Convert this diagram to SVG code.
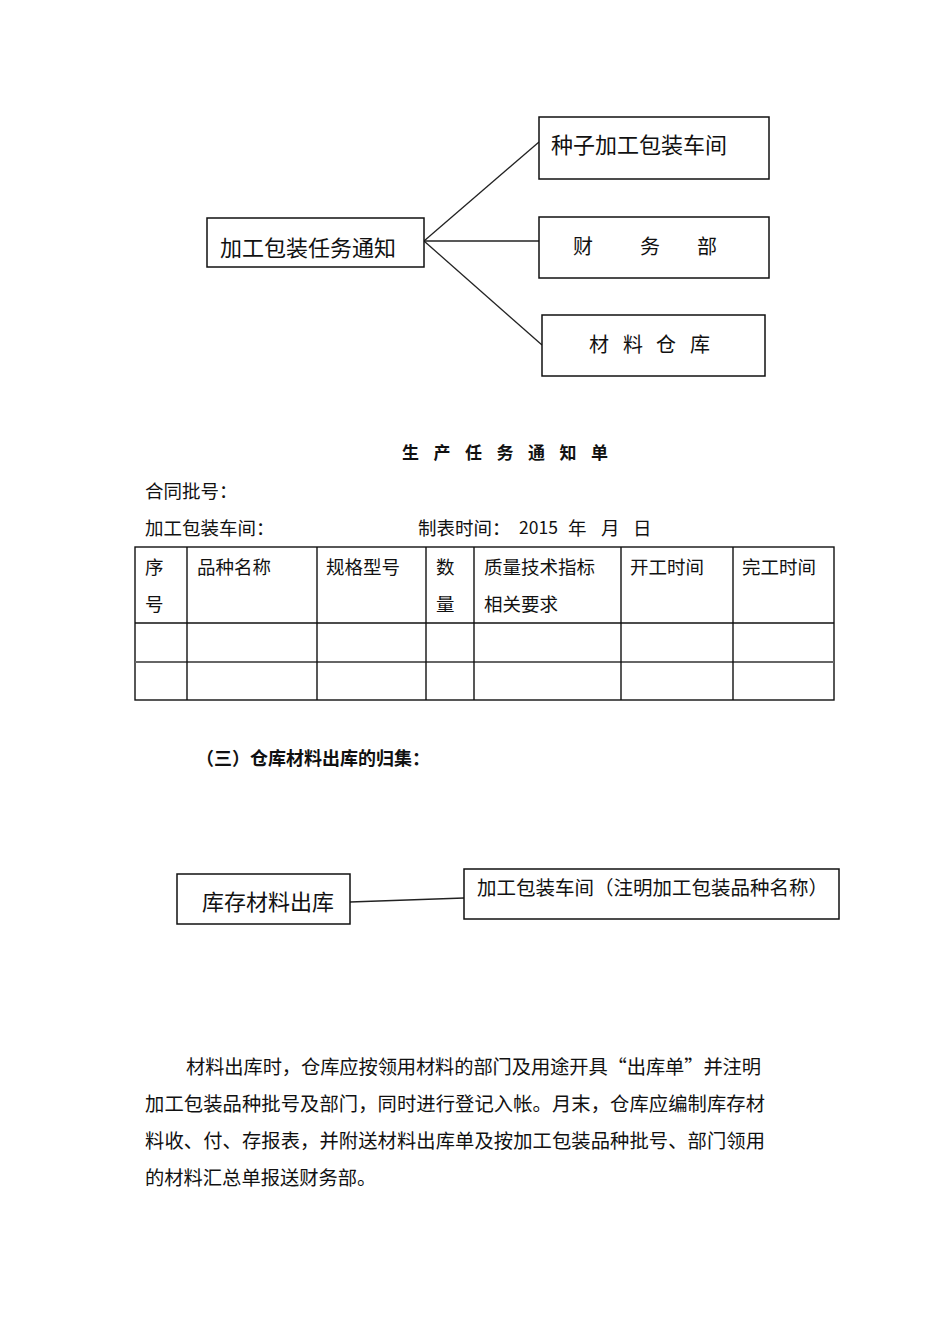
<svg xmlns="http://www.w3.org/2000/svg" width="950" height="1344" viewBox="0 0 950 1344">
<style>
text{font-family:"Noto Sans CJK SC","Liberation Sans",sans-serif;fill:#111;}
.box{fill:#fff;stroke:#111;stroke-width:1.5;}
.ln{stroke:#222;stroke-width:1.3;fill:none;}
.t21{font-size:22px;}
.t20{font-size:20px;}
.t18{font-size:18.5px;}
.b{font-weight:bold;}
.grid{stroke:#111;stroke-width:1.4;fill:none;}
</style>
<rect width="950" height="1344" fill="#fff"/>
<g id="connectors">
<line class="ln" x1="424" y1="241" x2="539" y2="142"/>
<line class="ln" x1="424" y1="241" x2="539" y2="241"/>
<line class="ln" x1="424" y1="241" x2="542" y2="345"/>
<line class="ln" x1="350" y1="902" x2="464" y2="898" stroke-width="1.8"/>
</g>
<g id="node-notice">
<rect class="box" x="207" y="218" width="217" height="49"/>
<text class="t21" x="220" y="256">加工包装任务通知</text>
</g>
<g id="node-workshop">
<rect class="box" x="539" y="117" width="230" height="62"/>
<text class="t21" x="551" y="153">种子加工包装车间</text>
</g>
<g id="node-finance">
<rect class="box" x="539" y="217" width="230" height="61"/>
<text class="t20" x="573 640 697" y="254">财务部</text>
</g>
<g id="node-warehouse">
<rect class="box" x="542" y="315" width="223" height="61"/>
<text class="t20" x="589 623 656 690" y="352">材料仓库</text>
</g>
<g id="form-title">
<text class="b" font-size="17" x="402 433.5 465 496.5 528 559.5 591" y="459">生产任务通知单</text>
<text class="t18" x="145" y="498">合同批号：</text>
<text class="t18" x="145" y="535">加工包装车间：</text>
<text class="t18" x="418" y="535">制表时间：</text>
<text font-family="Liberation Sans,Arial,sans-serif" font-size="17.5" x="519" y="534">2015</text>
<text class="t18" x="568" y="535">年</text>
<text class="t18" x="601" y="535">月</text>
<text class="t18" x="633" y="535">日</text>
</g>
<g id="table">
<rect class="grid" x="135" y="547" width="699" height="153"/>
<line class="grid" x1="135" y1="623" x2="834" y2="623"/>
<line x1="135" y1="662" x2="834" y2="662" stroke="#666" stroke-width="2.2"/>
<line class="grid" x1="187" y1="547" x2="187" y2="700"/>
<line class="grid" x1="317" y1="547" x2="317" y2="700"/>
<line class="grid" x1="426" y1="547" x2="426" y2="700"/>
<line class="grid" x1="474" y1="547" x2="474" y2="700"/>
<line class="grid" x1="621" y1="547" x2="621" y2="700"/>
<line class="grid" x1="733" y1="547" x2="733" y2="700"/>
<text class="t18" x="145" y="574">序</text>
<text class="t18" x="145" y="611">号</text>
<text class="t18" x="197" y="574">品种名称</text>
<text class="t18" x="326" y="574">规格型号</text>
<text class="t18" x="436" y="574">数</text>
<text class="t18" x="436" y="611">量</text>
<text class="t18" x="484" y="574">质量技术指标</text>
<text class="t18" x="484" y="611">相关要求</text>
<text class="t18" x="630" y="574">开工时间</text>
<text class="t18" x="742" y="574">完工时间</text>
</g>
<g id="section-title">
<text class="b" font-size="18" x="196" y="765">（三）仓库材料出库的归集：</text>
</g>
<g id="node-stock-out">
<rect class="box" x="177" y="874" width="173" height="50"/>
<text class="t21" x="202" y="910">库存材料出库</text>
</g>
<g id="node-packing-workshop">
<rect class="box" x="464" y="869" width="375" height="50"/>
<text font-size="19.5" x="477" y="895">加工包装车间（注明加工包装品种名称）</text>
</g>
<g id="paragraph">
<text font-size="19.3" x="186" y="1074" textLength="575" lengthAdjust="spacing">材料出库时，仓库应按领用材料的部门及用途开具“出库单”并注明</text>
<text font-size="19.3" x="145" y="1111" textLength="620" lengthAdjust="spacing">加工包装品种批号及部门，同时进行登记入帐。月末，仓库应编制库存材</text>
<text font-size="19.3" x="145" y="1148" textLength="620" lengthAdjust="spacing">料收、付、存报表，并附送材料出库单及按加工包装品种批号、部门领用</text>
<text font-size="19.3" x="145" y="1185">的材料汇总单报送财务部。</text>
</g>
</svg>
